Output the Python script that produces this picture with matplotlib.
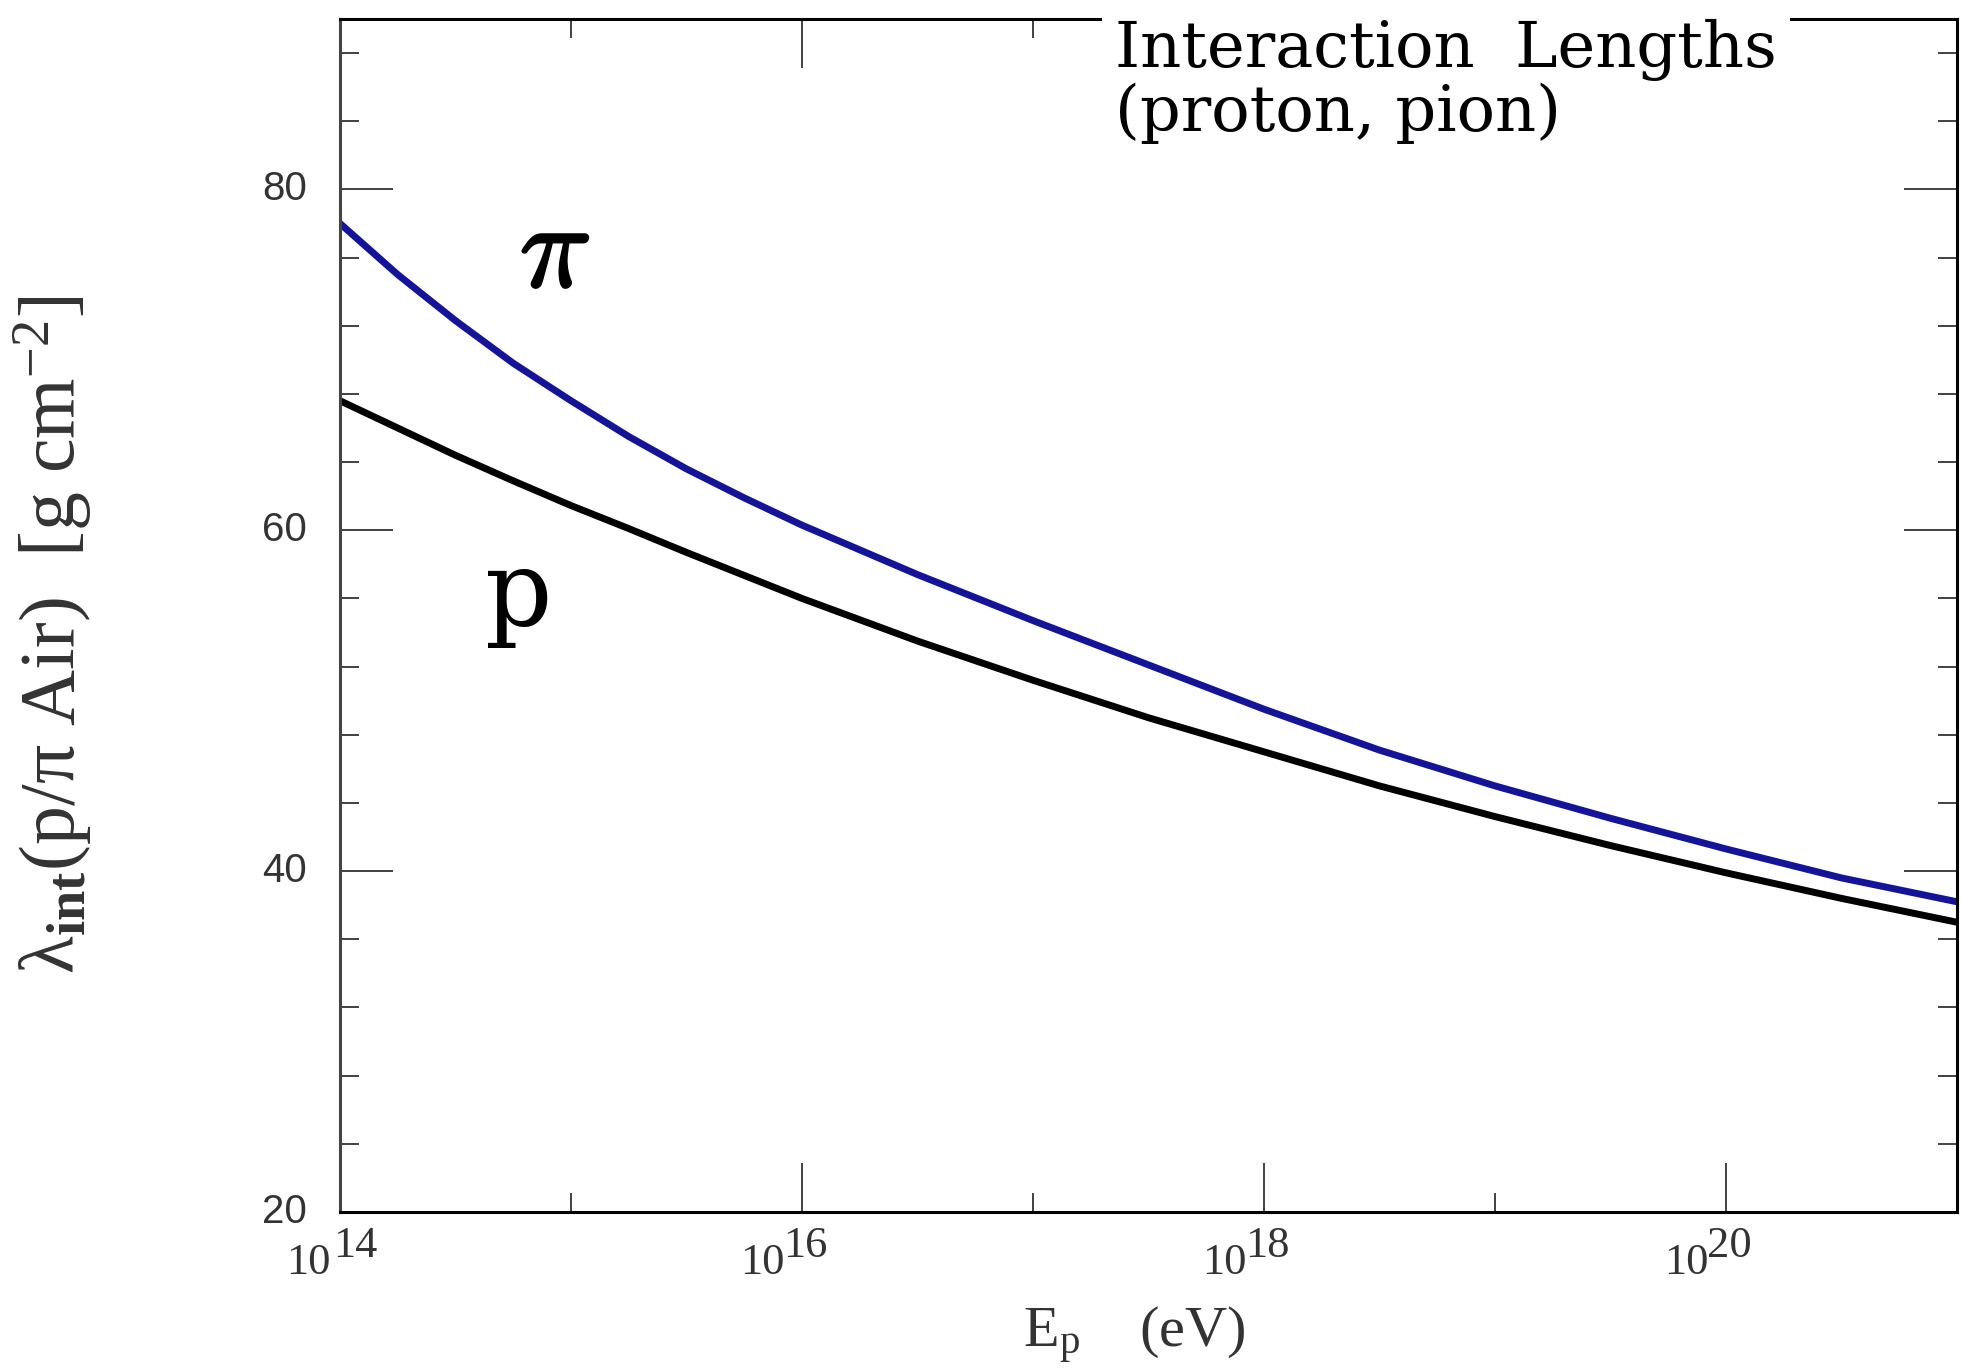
import matplotlib
matplotlib.use("Agg")
import matplotlib.pyplot as plt
import matplotlib.patheffects as pe
import numpy as np
from matplotlib.transforms import ScaledTranslation

# values (log10 of energy in eV, lambda in g/cm^2)
log_energy = [14.0, 14.25, 14.5, 14.75, 15.0, 15.25, 15.5, 15.75, 16.0,
              16.5, 17.0, 17.5, 18.0, 18.5, 19.0, 19.5, 20.0, 20.5, 21.0]
lambda_pion = [78.0, 75.0, 72.3, 69.8, 67.6, 65.5, 63.6, 61.9, 60.3,
               57.4, 54.7, 52.1, 49.5, 47.1, 45.0, 43.1, 41.3, 39.6, 38.2]
lambda_proton = [67.6, 66.0, 64.4, 62.9, 61.45, 60.1, 58.7, 57.35, 56.0,
                 53.5, 51.2, 49.0, 47.0, 45.0, 43.2, 41.5, 39.9, 38.4, 37.0]

x_major_exp = [14, 16, 18, 20]
x_minor_exp = [15, 17, 19, 21]
y_major = [20, 40, 60, 80]
y_minor = [24, 28, 32, 36, 44, 48, 52, 56, 64, 68, 72, 76, 84, 88]

plt.rcParams["mathtext.fontset"] = "custom"
plt.rcParams["mathtext.rm"] = "Liberation Serif"
plt.rcParams["mathtext.it"] = "Liberation Serif:italic"
plt.rcParams["mathtext.bf"] = "Liberation Serif:bold"

fig = plt.figure(figsize=(19.61, 13.69), dpi=100)
ax = fig.add_axes([0.1734, 0.1147, 0.8246, 0.8714])

energy = 10.0 ** np.array(log_energy)
ax.plot(energy, lambda_pion, color="#14149b", lw=5)
ax.plot(energy, lambda_proton, color="black", lw=5)

ax.set_xscale("log")
ax.set_xlim(1e14, 1e21)
ax.set_ylim(20, 90)
ax.set_xticks([10.0 ** e for e in x_major_exp])
ax.set_xticks([10.0 ** e for e in x_minor_exp], minor=True)
ax.set_yticks(y_major)
ax.set_yticks(y_minor, minor=True)

ax.tick_params(which="both", direction="in", top=True, right=True,
               labelbottom=False, labelleft=False, color="#333333", width=1.3)
ax.tick_params(axis="x", which="major", length=35)
ax.tick_params(axis="x", which="minor", length=14)
ax.tick_params(axis="y", which="major", length=38)
ax.tick_params(axis="y", which="minor", length=14)

for s in ax.spines.values():
    s.set_linewidth(2.2)
ax.spines["left"].set_color("#444444")


def off(dx, dy):
    return ScaledTranslation(dx / 100, dy / 100, fig.dpi_scale_trans)


# x tick labels: 10 with a full size exponent
xt = ax.get_xaxis_transform()
for e in x_major_exp:
    dx = 8 if e == x_major_exp[0] else 0
    ax.text(10.0 ** e, 0, "10", transform=xt + off(-17 + dx, -31),
            ha="right", va="top", fontsize=32, family="Liberation Serif", color="#333333")
    ax.text(10.0 ** e, 0, str(e), transform=xt + off(-19 + dx * 1.5, -14),
            ha="left", va="top", fontsize=32, family="Liberation Serif", color="#333333")

# y tick labels
yt = ax.get_yaxis_transform()
for v in y_major:
    ax.text(0, v, str(v), transform=yt + off(-33, 0), ha="right", va="center",
            fontsize=29, family="Liberation Sans", color="#333333")

# curve labels
ax.text(10 ** 14.93, 76.2, r"$\pi$", fontsize=86, math_fontfamily="cm",
        ha="center", va="center",
        path_effects=[pe.withStroke(linewidth=2, foreground="black")])
ax.text(10 ** 14.775, 56.1, "p", fontsize=76, family="DejaVu Serif", ha="center", va="center")

# axis labels
fig.text(1134 / 1961, 1 - 1335 / 1369, r"E$_{\mathrm{p}}$    (eV)", fontsize=42,
         family="Liberation Serif", color="#333333", ha="center", va="center")
fig.text(53 / 1961, 1 - 635 / 1369, r"λ$_{\mathbf{int}}$(p/π Air)  [g cm$^{-2}$]",
         fontsize=56, family="Liberation Serif", color="#333333",
         rotation=90, ha="center", va="center")

fig.text(1115 / 1961, 1 - 19 / 1369, "Interaction  Lengths\n(proton, pion)",
         fontsize=46, family="DejaVu Serif",
         ha="left", va="top", linespacing=1.02,
         bbox=dict(facecolor="white", edgecolor="none", pad=9))

fig.savefig("out.png", dpi=100, facecolor="white")
